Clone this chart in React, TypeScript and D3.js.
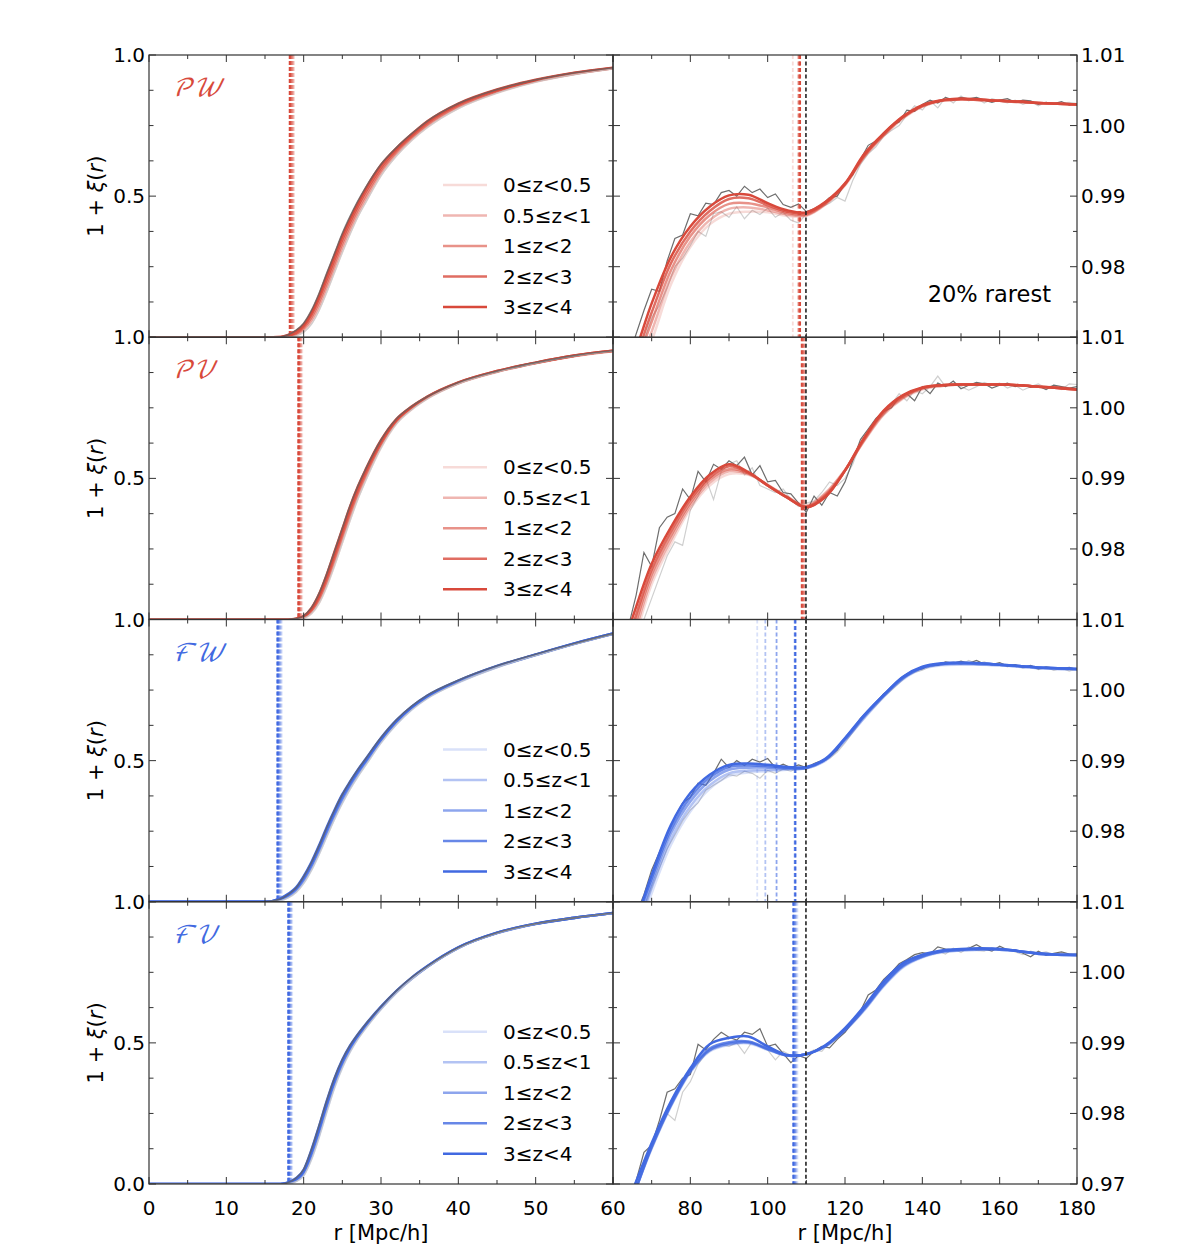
import React from 'react';
import * as d3 from 'd3';

// ---------------- data ----------------
const zLabels = ['0≤z<0.5', '0.5≤z<1', '1≤z<2', '2≤z<3', '3≤z<4'];
const binAlpha = [0.2, 0.4, 0.6, 0.8, 1.0];
const leftXTicks = [0, 10, 20, 30, 40, 50, 60];
const rightXTicks = [80, 100, 120, 140, 160, 180];
const leftYTicks = ['0.0', '0.5', '1.0'];
const rightYTicks = ['0.97', '0.98', '0.99', '1.00', '1.01'];
const panelNames = ['𝒫𝒲', '𝒫𝒱', 'ℱ𝒲', 'ℱ𝒱'];
const baoPeakR = 109.9;

const rLeft = [0, 15, 17, 18, 19, 20, 21, 22, 23, 24, 25, 26, 27, 28, 30, 32, 34, 36, 40, 45, 50, 55, 60];
const rRight = [60, 65, 70, 75, 80, 85, 90, 95, 100, 105, 110, 115, 120, 125, 130, 135, 140, 145, 150, 155, 160, 165, 170, 175, 180];
const rNoise = [
  60, 62, 64, 66, 68, 70, 72, 74, 76, 78,
  80, 82, 84, 86, 88, 90, 92, 94, 96, 98,
  100, 102, 104, 106, 108, 110, 112, 114, 116, 118,
  120, 122, 124, 126, 128, 130, 132, 134, 136, 138,
  140, 142, 144, 146, 148, 150, 152, 154, 156, 158,
  160, 162, 164, 166, 168, 170, 172, 174, 176, 178,
  180,
];

// ---- PW ----
const pwLeftBins = [
  [0, 0, 0, 0.001, 0.006, 0.02, 0.05, 0.1, 0.165, 0.235, 0.305, 0.37, 0.43, 0.48, 0.575, 0.645, 0.7, 0.745, 0.812, 0.866, 0.905, 0.932, 0.952],
  [0, 0, 0, 0.002, 0.009, 0.027, 0.06, 0.112, 0.178, 0.248, 0.318, 0.382, 0.44, 0.49, 0.584, 0.651, 0.705, 0.75, 0.816, 0.869, 0.907, 0.933, 0.953],
  [0, 0, 0, 0.003, 0.012, 0.033, 0.07, 0.125, 0.192, 0.262, 0.332, 0.395, 0.452, 0.502, 0.592, 0.658, 0.71, 0.755, 0.82, 0.872, 0.909, 0.934, 0.953],
  [0, 0, 0.001, 0.005, 0.016, 0.039, 0.08, 0.138, 0.206, 0.276, 0.346, 0.408, 0.464, 0.514, 0.601, 0.664, 0.715, 0.76, 0.824, 0.875, 0.91, 0.936, 0.954],
  [0, 0, 0.001, 0.008, 0.022, 0.045, 0.088, 0.148, 0.22, 0.29, 0.36, 0.42, 0.475, 0.525, 0.61, 0.67, 0.72, 0.765, 0.828, 0.878, 0.912, 0.937, 0.955],
];
const pwLeftSim = [0, 0, 0.001, 0.009, 0.024, 0.05, 0.095, 0.156, 0.228, 0.298, 0.368, 0.428, 0.482, 0.53, 0.613, 0.672, 0.722, 0.766, 0.828, 0.878, 0.912, 0.937, 0.955];
const pwLeftSimLight = [0, 0, 0, 0.001, 0.005, 0.018, 0.046, 0.095, 0.16, 0.23, 0.3, 0.365, 0.425, 0.476, 0.572, 0.642, 0.698, 0.743, 0.81, 0.865, 0.904, 0.931, 0.951];
const pwLeftVoid = [18.75, 18.6, 18.45, 18.3, 18.2];
const pwRightBins = [
  [0.958, 0.963, 0.9695, 0.9775, 0.9828, 0.986, 0.9875, 0.9878, 0.9877, 0.9872, 0.9872, 0.9888, 0.9915, 0.9955, 0.9985, 1.001, 1.0027, 1.0035, 1.0037, 1.0036, 1.0035, 1.0033, 1.0032, 1.0031, 1.003],
  [0.959, 0.964, 0.9708, 0.9785, 0.9835, 0.9866, 0.9882, 0.9884, 0.988, 0.9874, 0.9873, 0.9889, 0.9916, 0.9956, 0.9986, 1.0011, 1.0027, 1.0035, 1.0037, 1.0036, 1.0035, 1.0033, 1.0032, 1.0031, 1.003],
  [0.96, 0.965, 0.9722, 0.9795, 0.9843, 0.9873, 0.9889, 0.989, 0.9884, 0.9876, 0.9874, 0.989, 0.9917, 0.9957, 0.9987, 1.0012, 1.0028, 1.0035, 1.0037, 1.0036, 1.0035, 1.0034, 1.0032, 1.0031, 1.003],
  [0.961, 0.966, 0.9735, 0.9805, 0.985, 0.9879, 0.9896, 0.9897, 0.9887, 0.9878, 0.9876, 0.9891, 0.9917, 0.9958, 0.9988, 1.0012, 1.0028, 1.0036, 1.0038, 1.0037, 1.0035, 1.0034, 1.0032, 1.0031, 1.003],
  [0.962, 0.967, 0.9748, 0.9814, 0.9857, 0.9885, 0.9901, 0.9902, 0.989, 0.988, 0.9877, 0.9892, 0.9918, 0.996, 0.9989, 1.0013, 1.0029, 1.0036, 1.0038, 1.0037, 1.0035, 1.0034, 1.0032, 1.0031, 1.003],
];
const pwRightSim = [
  0.962, 0.9645, 0.9672, 0.9705, 0.9738, 0.9768, 0.9765, 0.9808, 0.984, 0.9845,
  0.9875, 0.9872, 0.989, 0.9888, 0.9905, 0.9908, 0.99, 0.9914, 0.9905, 0.991,
  0.9898, 0.9903, 0.9888, 0.9884, 0.9889, 0.9878, 0.9882, 0.9888, 0.9898, 0.99,
  0.9918, 0.993, 0.9952, 0.9972, 0.9978, 0.999, 1.0, 1.0005, 1.0022, 1.002,
  1.003, 1.0036, 1.0032, 1.004, 1.0036, 1.004, 1.0038, 1.004, 1.0036, 1.0033,
  1.0036, 1.0038, 1.0033, 1.0036, 1.0035, 1.003, 1.0033, 1.0031, 1.0034, 1.0029,
  1.0031,
];
const pwRightSimLight = [
  0.958, 0.961, 0.964, 0.967, 0.9695, 0.9728, 0.9745, 0.977, 0.98, 0.9812,
  0.983, 0.985, 0.9843, 0.9875, 0.9878, 0.987, 0.9885, 0.9868, 0.988, 0.9874,
  0.9883, 0.987, 0.9877, 0.9866, 0.9862, 0.9875, 0.988, 0.9885, 0.989, 0.9898,
  0.9893, 0.9922, 0.9945, 0.996, 0.997, 0.9985, 0.9993, 1.0, 1.0015, 1.0028,
  1.0022, 1.0035, 1.0025, 1.004, 1.0032, 1.0042, 1.0035, 1.0039, 1.0032, 1.0038,
  1.0035, 1.0032, 1.0036, 1.003, 1.0034, 1.0028, 1.0033, 1.003, 1.0032, 1.0033,
  1.0031,
];
const pwRightVoid = [106.5, 107.9, 108.1, 108.3, 108.4];

// ---- PV ----
const pvLeftBins = [
  [0, 0, 0, 0, 0.001, 0.005, 0.022, 0.06, 0.12, 0.195, 0.275, 0.355, 0.43, 0.495, 0.61, 0.695, 0.745, 0.783, 0.836, 0.877, 0.908, 0.933, 0.951],
  [0, 0, 0, 0, 0.001, 0.007, 0.027, 0.068, 0.13, 0.206, 0.286, 0.366, 0.44, 0.504, 0.616, 0.699, 0.748, 0.785, 0.837, 0.878, 0.909, 0.934, 0.951],
  [0, 0, 0, 0, 0.002, 0.008, 0.031, 0.075, 0.14, 0.218, 0.298, 0.378, 0.45, 0.513, 0.622, 0.703, 0.75, 0.787, 0.838, 0.879, 0.909, 0.934, 0.952],
  [0, 0, 0, 0, 0.002, 0.01, 0.036, 0.083, 0.15, 0.229, 0.309, 0.389, 0.46, 0.522, 0.629, 0.707, 0.753, 0.789, 0.839, 0.88, 0.91, 0.935, 0.952],
  [0, 0, 0, 0, 0.003, 0.012, 0.04, 0.09, 0.16, 0.24, 0.32, 0.4, 0.47, 0.53, 0.635, 0.71, 0.755, 0.79, 0.84, 0.88, 0.91, 0.935, 0.952],
];
const pvLeftSim = [0, 0, 0, 0, 0.003, 0.013, 0.042, 0.093, 0.163, 0.243, 0.323, 0.403, 0.472, 0.532, 0.636, 0.711, 0.756, 0.79, 0.84, 0.88, 0.91, 0.935, 0.952];
const pvLeftSimLight = [0, 0, 0, 0, 0.001, 0.005, 0.02, 0.057, 0.117, 0.19, 0.27, 0.35, 0.425, 0.49, 0.607, 0.693, 0.744, 0.782, 0.835, 0.877, 0.908, 0.933, 0.951];
const pvLeftVoid = [19.8, 19.65, 19.5, 19.4, 19.3];
const pvRightBins = [
  [0.958, 0.966, 0.975, 0.9807, 0.9857, 0.989, 0.9906, 0.9905, 0.9891, 0.9874, 0.9862, 0.988, 0.9912, 0.9953, 0.999, 1.0013, 1.0026, 1.0031, 1.0033, 1.0033, 1.0033, 1.0032, 1.003, 1.0029, 1.0026],
  [0.959, 0.967, 0.9757, 0.9813, 0.9861, 0.9894, 0.991, 0.9906, 0.9891, 0.9874, 0.9861, 0.9879, 0.9912, 0.9954, 0.9991, 1.0014, 1.0027, 1.0031, 1.0033, 1.0033, 1.0033, 1.0032, 1.003, 1.0029, 1.0026],
  [0.96, 0.968, 0.9764, 0.9819, 0.9865, 0.9898, 0.9913, 0.9907, 0.989, 0.9873, 0.986, 0.9877, 0.9911, 0.9955, 0.9993, 1.0015, 1.0028, 1.0032, 1.0033, 1.0033, 1.0033, 1.0032, 1.003, 1.0028, 1.0026],
  [0.961, 0.969, 0.9771, 0.9825, 0.987, 0.9901, 0.9917, 0.9908, 0.989, 0.9873, 0.9859, 0.9875, 0.9911, 0.9957, 0.9995, 1.0017, 1.0028, 1.0032, 1.0033, 1.0033, 1.0033, 1.0032, 1.003, 1.0028, 1.0026],
  [0.962, 0.9702, 0.9779, 0.9831, 0.9874, 0.9905, 0.992, 0.9909, 0.989, 0.9873, 0.9859, 0.9874, 0.9911, 0.9958, 0.9996, 1.0018, 1.0029, 1.0032, 1.0033, 1.0033, 1.0033, 1.0032, 1.003, 1.0028, 1.0026],
];
const pvRightSim = [
  0.963, 0.966, 0.969, 0.9735, 0.9795, 0.9775, 0.983, 0.9845, 0.985, 0.9885,
  0.987, 0.991, 0.9895, 0.992, 0.9913, 0.9925, 0.9918, 0.993, 0.9905, 0.9918,
  0.9895, 0.9897, 0.988, 0.9878, 0.9865, 0.9852, 0.9875, 0.9862, 0.988, 0.9875,
  0.9895, 0.9925, 0.9955, 0.997, 0.9985, 0.9995, 1.0, 1.0015, 1.002, 1.001,
  1.003, 1.002, 1.0035, 1.003, 1.0038, 1.0027, 1.0032, 1.0036, 1.0034, 1.0028,
  1.0032, 1.0035, 1.003, 1.0033, 1.0029, 1.0031, 1.0026, 1.0032, 1.003, 1.0028,
  1.003,
];
const pvRightSimLight = [
  0.958, 0.961, 0.9645, 0.9675, 0.97, 0.973, 0.976, 0.979, 0.981, 0.9805,
  0.9855, 0.9875, 0.99, 0.987, 0.991, 0.992, 0.9925, 0.9905, 0.9915, 0.989,
  0.9885, 0.988, 0.9885, 0.987, 0.986, 0.9865, 0.9868, 0.988, 0.9895, 0.989,
  0.99, 0.992, 0.995, 0.9965, 0.998, 0.999, 1.0005, 1.002, 1.001, 1.0025,
  1.002, 1.003, 1.0045, 1.003, 1.0035, 1.003, 1.0025, 1.003, 1.0036, 1.0032,
  1.0035, 1.0028, 1.0032, 1.0025, 1.003, 1.0034, 1.0028, 1.0032, 1.0026, 1.0034,
  1.0033,
];
const pvRightVoid = [109.7, 109.5, 109.3, 109.0, 108.8];

// ---- FW ----
const fwLeftBins = [
  [0, 0, 0.005, 0.016, 0.035, 0.068, 0.115, 0.172, 0.235, 0.297, 0.352, 0.402, 0.446, 0.486, 0.565, 0.63, 0.682, 0.722, 0.777, 0.831, 0.873, 0.913, 0.949],
  [0, 0, 0.007, 0.019, 0.039, 0.074, 0.121, 0.179, 0.243, 0.304, 0.359, 0.408, 0.451, 0.491, 0.569, 0.633, 0.685, 0.724, 0.779, 0.832, 0.874, 0.914, 0.949],
  [0, 0, 0.008, 0.022, 0.043, 0.079, 0.127, 0.186, 0.25, 0.311, 0.366, 0.414, 0.457, 0.496, 0.573, 0.637, 0.687, 0.726, 0.78, 0.833, 0.875, 0.914, 0.95],
  [0, 0, 0.01, 0.025, 0.047, 0.085, 0.134, 0.193, 0.258, 0.318, 0.373, 0.42, 0.462, 0.5, 0.576, 0.64, 0.69, 0.728, 0.782, 0.834, 0.875, 0.915, 0.95],
  [0, 0, 0.012, 0.028, 0.05, 0.09, 0.14, 0.2, 0.265, 0.325, 0.38, 0.425, 0.467, 0.505, 0.58, 0.643, 0.692, 0.73, 0.783, 0.835, 0.876, 0.915, 0.95],
];
const fwLeftSim = [0, 0, 0.01, 0.026, 0.049, 0.089, 0.139, 0.199, 0.264, 0.325, 0.38, 0.426, 0.468, 0.506, 0.582, 0.645, 0.694, 0.732, 0.785, 0.836, 0.877, 0.915, 0.95];
const fwLeftSimLight = [0, 0, 0.004, 0.014, 0.032, 0.064, 0.11, 0.167, 0.23, 0.292, 0.348, 0.398, 0.442, 0.482, 0.562, 0.628, 0.68, 0.72, 0.776, 0.83, 0.872, 0.912, 0.948];
const fwLeftVoid = [17.15, 17.0, 16.85, 16.7, 16.6];
const fwRightBins = [
  [0.957, 0.963, 0.9712, 0.9781, 0.9828, 0.986, 0.9878, 0.9883, 0.9885, 0.9887, 0.9889, 0.99, 0.9928, 0.996, 0.999, 1.0015, 1.003, 1.0035, 1.0036, 1.0036, 1.0035, 1.0033, 1.0031, 1.003, 1.0029],
  [0.958, 0.964, 0.972, 0.9789, 0.9835, 0.9865, 0.9882, 0.9886, 0.9887, 0.9888, 0.9889, 0.9901, 0.9929, 0.9961, 0.9991, 1.0016, 1.0031, 1.0036, 1.0037, 1.0036, 1.0035, 1.0033, 1.0031, 1.003, 1.0029],
  [0.959, 0.965, 0.9727, 0.9797, 0.9842, 0.9871, 0.9887, 0.989, 0.989, 0.9889, 0.989, 0.9902, 0.993, 0.9963, 0.9992, 1.0017, 1.0032, 1.0037, 1.0038, 1.0037, 1.0036, 1.0034, 1.0032, 1.0031, 1.003],
  [0.96, 0.966, 0.9733, 0.9803, 0.9848, 0.9876, 0.9891, 0.9893, 0.9892, 0.989, 0.989, 0.9902, 0.9931, 0.9964, 0.9993, 1.0018, 1.0032, 1.0037, 1.0038, 1.0038, 1.0036, 1.0034, 1.0032, 1.0031, 1.003],
  [0.96, 0.966, 0.9738, 0.9809, 0.9854, 0.988, 0.9894, 0.9896, 0.9894, 0.9891, 0.9891, 0.9903, 0.9932, 0.9965, 0.9993, 1.0019, 1.0033, 1.0038, 1.0039, 1.0038, 1.0036, 1.0034, 1.0032, 1.0031, 1.003],
];
const fwRightSim = [
  0.96, 0.9625, 0.9652, 0.9683, 0.971, 0.9745, 0.977, 0.9795, 0.982, 0.984,
  0.9848, 0.9868, 0.9865, 0.9882, 0.9902, 0.989, 0.99, 0.9893, 0.9902, 0.9898,
  0.9903, 0.989, 0.9895, 0.989, 0.9894, 0.989, 0.9896, 0.99, 0.9905, 0.9915,
  0.9932, 0.9944, 0.996, 0.997, 0.9982, 0.9995, 1.0002, 1.0015, 1.0023, 1.0028,
  1.003, 1.0036, 1.0035, 1.004, 1.0038, 1.0041, 1.0038, 1.0042, 1.0037, 1.0036,
  1.0039, 1.0034, 1.0036, 1.0032, 1.0035, 1.003, 1.0033, 1.0031, 1.003, 1.0032,
  1.0029,
];
const fwRightSimLight = [
  0.957, 0.96, 0.9628, 0.966, 0.969, 0.972, 0.9748, 0.9775, 0.9795, 0.9815,
  0.983, 0.984, 0.9858, 0.9865, 0.9872, 0.988, 0.9878, 0.9885, 0.9882, 0.9875,
  0.9886, 0.9882, 0.9888, 0.9885, 0.989, 0.9888, 0.9893, 0.9898, 0.9903, 0.9912,
  0.9925, 0.994, 0.9955, 0.9968, 0.9978, 0.999, 1.0, 1.001, 1.002, 1.0025,
  1.0028, 1.0033, 1.0035, 1.0037, 1.004, 1.0036, 1.0042, 1.0037, 1.004, 1.0036,
  1.0038, 1.0033, 1.0036, 1.0031, 1.0034, 1.0029, 1.0032, 1.0028, 1.0031, 1.0027,
  1.003,
];
const fwRightVoid = [97.3, 99.4, 102.3, 107.0, 107.2];

// ---- FV ----
const fvLeftBins = [
  [0, 0, 0, 0.002, 0.01, 0.032, 0.09, 0.17, 0.26, 0.345, 0.415, 0.47, 0.515, 0.553, 0.62, 0.678, 0.727, 0.769, 0.836, 0.889, 0.921, 0.943, 0.96],
  [0, 0, 0, 0.003, 0.012, 0.036, 0.097, 0.178, 0.269, 0.353, 0.421, 0.475, 0.519, 0.556, 0.622, 0.68, 0.728, 0.77, 0.837, 0.889, 0.921, 0.943, 0.96],
  [0, 0, 0, 0.003, 0.014, 0.041, 0.104, 0.187, 0.277, 0.36, 0.427, 0.48, 0.522, 0.559, 0.624, 0.681, 0.729, 0.77, 0.837, 0.889, 0.922, 0.943, 0.96],
  [0, 0, 0, 0.004, 0.017, 0.045, 0.112, 0.196, 0.286, 0.368, 0.434, 0.485, 0.526, 0.562, 0.626, 0.683, 0.73, 0.771, 0.838, 0.89, 0.922, 0.943, 0.96],
  [0, 0, 0, 0.005, 0.02, 0.05, 0.12, 0.205, 0.295, 0.375, 0.44, 0.49, 0.53, 0.565, 0.628, 0.684, 0.732, 0.772, 0.838, 0.89, 0.922, 0.943, 0.96],
];
const fvLeftSim = [0, 0, 0, 0.005, 0.021, 0.052, 0.122, 0.208, 0.297, 0.377, 0.441, 0.491, 0.531, 0.566, 0.629, 0.685, 0.733, 0.772, 0.838, 0.89, 0.922, 0.943, 0.96];
const fvLeftSimLight = [0, 0, 0, 0.001, 0.008, 0.028, 0.085, 0.165, 0.255, 0.34, 0.411, 0.467, 0.512, 0.55, 0.618, 0.677, 0.726, 0.768, 0.835, 0.888, 0.921, 0.943, 0.959];
const fvLeftVoid = [18.5, 18.35, 18.2, 18.1, 18.0];
const fvRightBins = [
  [0.961, 0.968, 0.975, 0.981, 0.9858, 0.9888, 0.9897, 0.9899, 0.989, 0.9882, 0.9884, 0.9895, 0.9917, 0.9946, 0.998, 1.0007, 1.0021, 1.0028, 1.0031, 1.0032, 1.0032, 1.003, 1.0027, 1.0025, 1.0024],
  [0.961, 0.968, 0.9751, 0.9811, 0.9859, 0.9889, 0.9898, 0.99, 0.9891, 0.9882, 0.9884, 0.9895, 0.9918, 0.9947, 0.9981, 1.0008, 1.0022, 1.0029, 1.0031, 1.0032, 1.0032, 1.003, 1.0027, 1.0025, 1.0024],
  [0.961, 0.968, 0.9752, 0.9812, 0.986, 0.989, 0.9899, 0.9901, 0.9891, 0.9882, 0.9884, 0.9896, 0.9918, 0.9948, 0.9982, 1.0009, 1.0022, 1.0029, 1.0032, 1.0033, 1.0032, 1.003, 1.0027, 1.0025, 1.0024],
  [0.962, 0.968, 0.9754, 0.9813, 0.9861, 0.9892, 0.9901, 0.9902, 0.9892, 0.9882, 0.9884, 0.9896, 0.9919, 0.9949, 0.9983, 1.001, 1.0023, 1.003, 1.0032, 1.0033, 1.0033, 1.003, 1.0027, 1.0025, 1.0025],
  [0.962, 0.969, 0.9758, 0.9817, 0.9864, 0.9898, 0.9907, 0.9909, 0.9895, 0.9883, 0.9884, 0.9897, 0.9921, 0.9952, 0.9987, 1.0013, 1.0025, 1.0031, 1.0033, 1.0034, 1.0033, 1.003, 1.0026, 1.0025, 1.0025],
];
const fvRightSim = [
  0.962, 0.965, 0.9675, 0.9705, 0.9745, 0.9755, 0.979, 0.983, 0.9835, 0.985,
  0.9855, 0.9898, 0.989, 0.9905, 0.9915, 0.9908, 0.9904, 0.9915, 0.9912, 0.992,
  0.9895, 0.9898, 0.9885, 0.9872, 0.9882, 0.9878, 0.9888, 0.9895, 0.9893, 0.9905,
  0.9915, 0.993, 0.9945, 0.9968, 0.9975, 0.999, 1.0, 1.0012, 1.0018, 1.0025,
  1.0028, 1.0026, 1.0036, 1.0033, 1.0032, 1.0033, 1.0034, 1.0039, 1.0033, 1.003,
  1.0037, 1.0032, 1.0032, 1.0027, 1.0022, 1.003, 1.0024, 1.0027, 1.0029, 1.0026,
  1.0024,
];
const fvRightSimLight = [
  0.961, 0.964, 0.9665, 0.9695, 0.9725, 0.975, 0.9775, 0.98, 0.979, 0.983,
  0.9845, 0.987, 0.9885, 0.9892, 0.9898, 0.9895, 0.99, 0.9885, 0.9902, 0.9895,
  0.989, 0.9876, 0.9888, 0.9882, 0.988, 0.9885, 0.989, 0.9888, 0.99, 0.9912,
  0.9915, 0.9928, 0.994, 0.9955, 0.997, 0.9985, 0.9998, 1.0005, 1.0015, 1.002,
  1.0022, 1.0028, 1.003, 1.0026, 1.0034, 1.0028, 1.0036, 1.0031, 1.003, 1.0035,
  1.0031, 1.0033, 1.0029, 1.0025, 1.003, 1.0027, 1.0029, 1.0025, 1.0028, 1.0026,
  1.0027,
];
const fvRightVoid = [107.7, 107.4, 107.1, 106.8, 106.6];

// ---------------- layout ----------------
const W = 1196;
const H = 1247;
const LX0 = 149;
const LX1 = 613;
const RX0 = 613;
const RX1 = 1077;
const TOP = 55;
const BOT = 1184;
const ROWH = (BOT - TOP) / 4;
const RED = '#d8493b';
const BLUE = '#4169e1';
const SPINE = '#333';
const FONT = "'DejaVu Sans', sans-serif";

const panels = [
  { name: panelNames[0], color: RED, lb: pwLeftBins, ls: pwLeftSim, lsl: pwLeftSimLight, lv: pwLeftVoid, rb: pwRightBins, rs: pwRightSim, rsl: pwRightSimLight, rv: pwRightVoid },
  { name: panelNames[1], color: RED, lb: pvLeftBins, ls: pvLeftSim, lsl: pvLeftSimLight, lv: pvLeftVoid, rb: pvRightBins, rs: pvRightSim, rsl: pvRightSimLight, rv: pvRightVoid },
  { name: panelNames[2], color: BLUE, lb: fwLeftBins, ls: fwLeftSim, lsl: fwLeftSimLight, lv: fwLeftVoid, rb: fwRightBins, rs: fwRightSim, rsl: fwRightSimLight, rv: fwRightVoid },
  { name: panelNames[3], color: BLUE, lb: fvLeftBins, ls: fvLeftSim, lsl: fvLeftSimLight, lv: fvLeftVoid, rb: fvRightBins, rs: fvRightSim, rsl: fvRightSimLight, rv: fvRightVoid },
];

const xL = d3.scaleLinear().domain([0, 60]).range([LX0, LX1]);
const xR = d3.scaleLinear().domain([60, 180]).range([RX0, RX1]);

function Row({ i, p }: { i: number; p: any }) {
  const top = TOP + i * ROWH;
  const bot = top + ROWH;
  const last = i === 3;
  const yL = d3.scaleLinear().domain([0, 1]).range([bot, top]);
  const yR = d3.scaleLinear().domain([0.97, 1.01]).range([bot, top]);
  const lineL = (vals: number[]) =>
    d3.line<number>().x((_, k) => xL(rLeft[k])).y((v) => yL(v)).curve(d3.curveMonotoneX)(vals) || '';
  const lineR = (vals: number[]) =>
    d3.line<number>().x((_, k) => xR(rRight[k])).y((v) => yR(v)).curve(d3.curveCatmullRom.alpha(0.5))(vals) || '';
  const lineN = (vals: number[]) =>
    d3.line<number>().x((_, k) => xR(rNoise[k])).y((v) => yR(v))(vals) || '';

  const els: any[] = [];
  const tk = (x1: number, y1: number, x2: number, y2: number, key: string) => (
    <line key={key} x1={x1} y1={y1} x2={x2} y2={y2} stroke={SPINE} strokeWidth={1} />
  );
  d3.range(0, 61, 5).forEach((v) => {
    const len = v % 10 === 0 ? 7 : 4;
    const x = xL(v);
    els.push(tk(x, bot, x, bot - len, `xlb${v}`));
    els.push(tk(x, top, x, top + len, `xlt${v}`));
  });
  d3.range(60, 181, 10).forEach((v) => {
    const len = v % 20 === 0 ? 7 : 4;
    const x = xR(v);
    els.push(tk(x, bot, x, bot - len, `xrb${v}`));
    els.push(tk(x, top, x, top + len, `xrt${v}`));
  });
  d3.range(0, 9).forEach((k) => {
    const v = k / 8;
    const len = k % 4 === 0 ? 7 : 4.5;
    const y = yL(v);
    els.push(tk(LX0, y, LX0 + len, y, `yll${k}`));
    els.push(tk(LX1, y, LX1 - len, y, `ylr${k}`));
    const len2 = k % 2 === 0 ? 7 : 4;
    els.push(tk(RX0, y, RX0 + len2, y, `yrl${k}`));
    els.push(tk(RX1, y, RX1 - len2, y, `yrr${k}`));
  });

  return (
    <g>
      <defs>
        <clipPath id={`cl${i}`}>
          <rect x={LX0} y={top} width={LX1 - LX0} height={ROWH} />
        </clipPath>
        <clipPath id={`cr${i}`}>
          <rect x={RX0} y={top} width={RX1 - RX0} height={ROWH} />
        </clipPath>
      </defs>
      <g clipPath={`url(#cl${i})`}>
        {p.lv.map((r: number, b: number) => (
          <line key={`lv${b}`} x1={xL(r)} x2={xL(r)} y1={top} y2={bot} stroke={p.color} strokeOpacity={binAlpha[b]} strokeWidth={2} strokeDasharray="4 2" />
        ))}
        {p.lb.map((vals: number[], b: number) => (
          <path key={`lb${b}`} d={lineL(vals)} fill="none" stroke={p.color} strokeOpacity={binAlpha[b]} strokeWidth={2.6} />
        ))}
        <path d={lineL(p.lsl)} fill="none" stroke="#c8c8c8" strokeOpacity={0.8} strokeWidth={1.4} />
        <path d={lineL(p.ls)} fill="none" stroke="#606060" strokeOpacity={0.75} strokeWidth={1.6} />
      </g>
      <g clipPath={`url(#cr${i})`}>
        <path d={lineN(p.rsl)} fill="none" stroke="#cfcfcf" strokeWidth={1.2} />
        <path d={lineN(p.rs)} fill="none" stroke="#6e6e6e" strokeWidth={1.2} />
        {p.rb.map((vals: number[], b: number) => (
          <path key={`rb${b}`} d={lineR(vals)} fill="none" stroke={p.color} strokeOpacity={binAlpha[b]} strokeWidth={2.5} />
        ))}
        {p.rv.map((r: number, b: number) => (
          <line key={`rv${b}`} x1={xR(r)} x2={xR(r)} y1={top} y2={bot} stroke={p.color} strokeOpacity={binAlpha[b]} strokeWidth={1.8} strokeDasharray="4 2.5" />
        ))}
        <line x1={xR(baoPeakR)} x2={xR(baoPeakR)} y1={top} y2={bot} stroke="#222" strokeWidth={1.6} strokeDasharray="4 2.5" />
      </g>
      <rect x={LX0} y={top} width={LX1 - LX0} height={ROWH} fill="none" stroke={SPINE} strokeWidth={1.2} />
      <rect x={RX0} y={top} width={RX1 - RX0} height={ROWH} fill="none" stroke={SPINE} strokeWidth={1.2} />
      {els}
      <text x={172} y={top + 41} fill={p.color} fontSize={24} fontStyle="italic" fontFamily="'DejaVu Math TeX Gyre', 'DejaVu Serif', serif">
        {p.name}
      </text>
      {zLabels.map((lab, b) => {
        const y = top + 130 + 30.5 * b;
        return (
          <g key={`lg${b}`}>
            <line x1={443} x2={487} y1={y} y2={y} stroke={p.color} strokeOpacity={binAlpha[b]} strokeWidth={2.5} />
            <text x={503} y={y + 7} fontSize={20} fontFamily={FONT}>{lab}</text>
          </g>
        );
      })}
      {i === 0 && (
        <text x={1051} y={302} fontSize={22.5} textAnchor="end" fontFamily={FONT}>20% rarest</text>
      )}
      {leftYTicks.map((t, k) =>
        k === 0 && !last ? null : (
          <text key={`lyt${k}`} x={145} y={yL(k * 0.5) + 7} fontSize={20} textAnchor="end" fontFamily={FONT}>{t}</text>
        )
      )}
      {rightYTicks.map((t, k) =>
        k === 0 && !last ? null : (
          <text key={`ryt${k}`} x={1081} y={yR(0.97 + k * 0.01) + 7} fontSize={20} textAnchor="start" fontFamily={FONT}>{t}</text>
        )
      )}
      <text transform={`translate(103,${top + ROWH / 2}) rotate(-90)`} fontSize={21} textAnchor="middle" fontFamily={FONT}>
        1 + <tspan fontStyle="italic">ξ</tspan>(<tspan fontStyle="italic">r</tspan>)
      </text>
      {last && (
        <g>
          {leftXTicks.map((t) => (
            <text key={`lx${t}`} x={xL(t)} y={bot + 31} fontSize={20} textAnchor="middle" fontFamily={FONT}>{t}</text>
          ))}
          {rightXTicks.map((t) => (
            <text key={`rx${t}`} x={xR(t)} y={bot + 31} fontSize={20} textAnchor="middle" fontFamily={FONT}>{t}</text>
          ))}
          <text x={xL(30)} y={bot + 56} fontSize={21} textAnchor="middle" fontFamily={FONT}>r [Mpc/h]</text>
          <text x={xR(120)} y={bot + 56} fontSize={21} textAnchor="middle" fontFamily={FONT}>r [Mpc/h]</text>
        </g>
      )}
    </g>
  );
}

export default function App() {
  return (
    <div style={{ position: 'absolute', left: 0, top: 0 }}>
      <svg width={W} height={H} style={{ display: 'block', background: '#fff' }}>
        {panels.map((p, i) => (
          <Row key={i} i={i} p={p} />
        ))}
      </svg>
    </div>
  );
}
